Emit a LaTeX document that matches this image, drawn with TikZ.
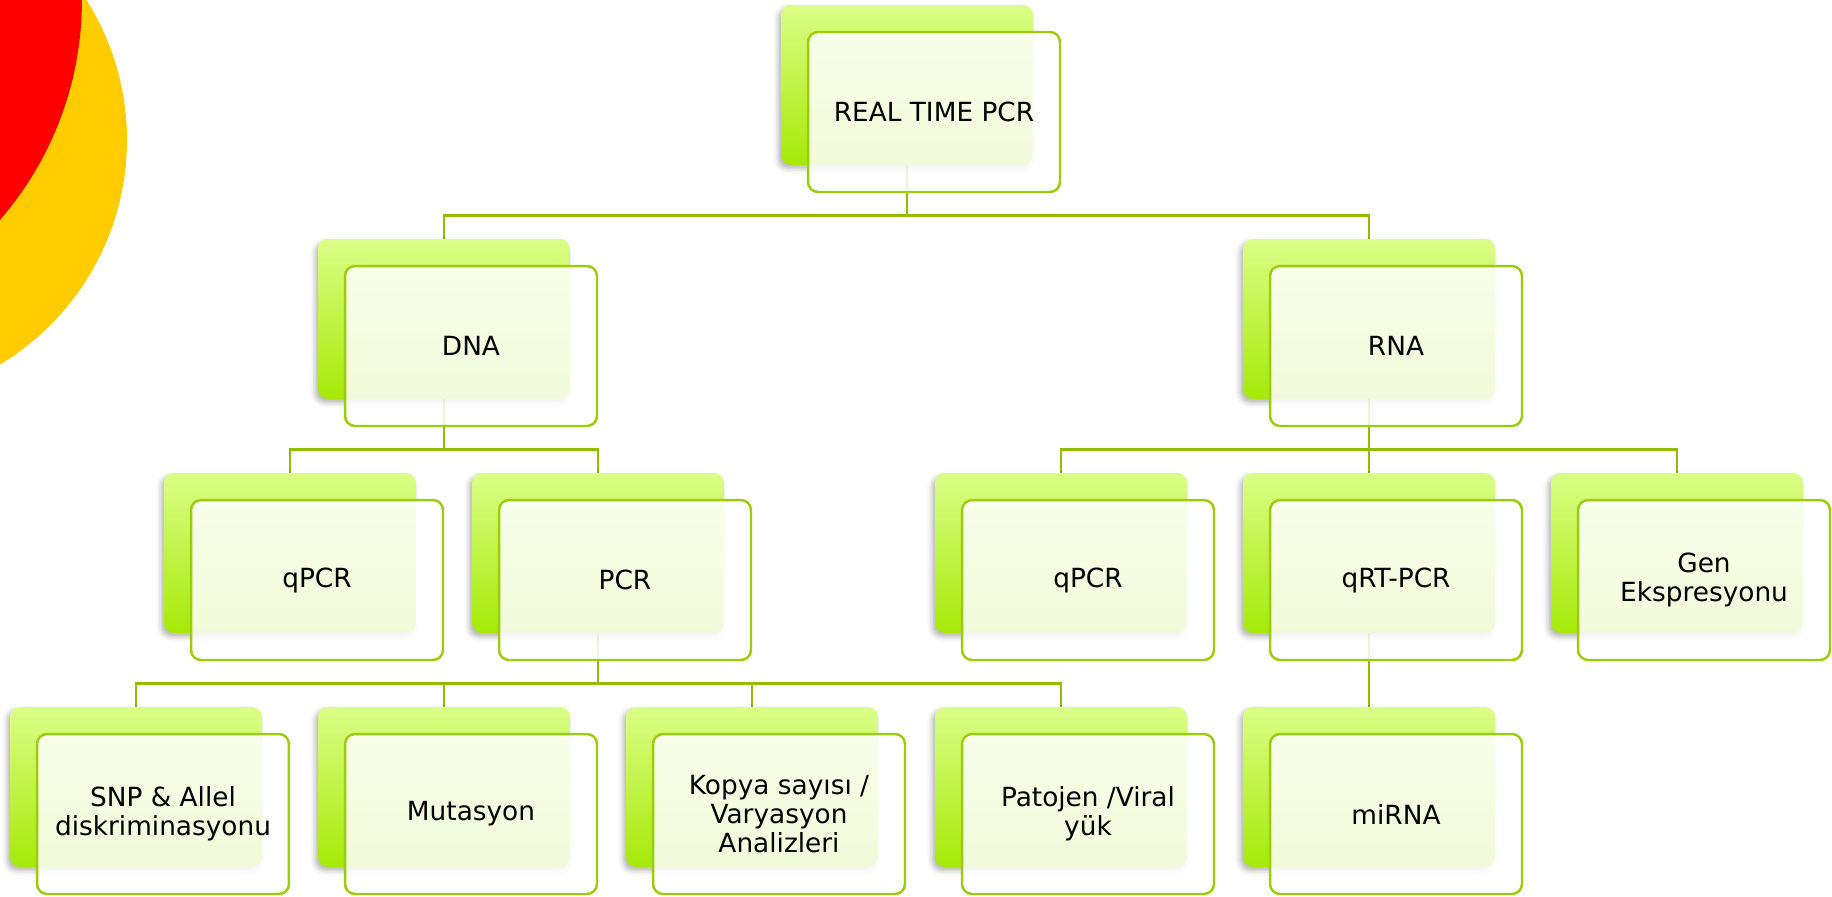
\documentclass[tikz,border=0pt]{standalone}
\usepackage{fontspec}
\setmainfont{DejaVu Sans}
\usepackage{xcolor}
\definecolor{lime1}{RGB}{219,254,135}
\definecolor{lime2}{RGB}{166,233,8}
\definecolor{limeline}{RGB}{156,205,12}
\definecolor{branch}{RGB}{145,188,0}
\definecolor{sunred}{RGB}{255,0,0}
\definecolor{sunyellow}{RGB}{255,204,0}
\usepackage{tikz}
\usetikzlibrary{shadows.blur, backgrounds}
\tikzstyle{box} = [
    rectangle,
    minimum width=5.04cm,
    minimum height=3.2cm,
    rounded corners=0.2cm,
]
\tikzstyle{back} = [
    box,
    top color=lime1,
    bottom color=lime2,
    blur shadow={shadow xshift=-1.5pt, shadow yshift=-2pt, shadow blur radius=3pt, shadow opacity=30},
]
\tikzstyle{front} = [
    box,
    fill=white,
    fill opacity=0.85,
    text opacity=1,
    draw=limeline,
    line width=1.4pt,
    align=center,
    font=\fontsize{15}{16.5}\selectfont,
]
\tikzstyle{link} = [draw=branch, line width=1.4pt]

\begin{document}
\begin{tikzpicture}[x=0.02cm, y=-0.02cm]
    \useasboundingbox (0,0) rectangle (1832,896);

    % corner discs
    \begin{scope}
        \clip (0,0) rectangle (1832,896);
        \fill [sunyellow] (-135,140) circle [radius=5.24cm];
        \fill [sunred] (-254,0) circle [radius=6.72cm];
    \end{scope}

    % boxes
    \foreach \id/\px/\py/\word in {
        root/907/85/{REAL TIME PCR},
        dna/444/319/{DNA},
        rna/1369/319/{RNA},
        qpcrd/290/553/{qPCR},
        pcr/598/553/{PCR},
        qpcrr/1061/553/{qPCR},
        qrt/1369/553/{qRT-PCR},
        gen/1677/553/{Gen\\Ekspresyonu},
        snp/136/787/{SNP \& Allel\\diskriminasyonu},
        mut/444/787/{Mutasyon},
        kopya/752/787/{Kopya sayısı /\\Varyasyon\\Analizleri},
        patojen/1061/787/{Patojen /Viral\\yük},
        mirna/1369/787/{miRNA}} {
        \node (\id) at (\px, \py) [back] {};
        \node (\id-f) at (\px+27, \py+27) [front] {\word};
    }

    % branches
    \begin{scope}[on background layer]
        \foreach \p/\c in {root/dna, root/rna,
                           dna/qpcrd, dna/pcr,
                           rna/qpcrr, rna/qrt, rna/gen,
                           pcr/snp, pcr/mut, pcr/kopya, pcr/patojen,
                           qrt/mirna} {
            \draw [link] (\p.south) -- ++(0,50) -| (\c.north);
        }
    \end{scope}

\end{tikzpicture}
\end{document}
